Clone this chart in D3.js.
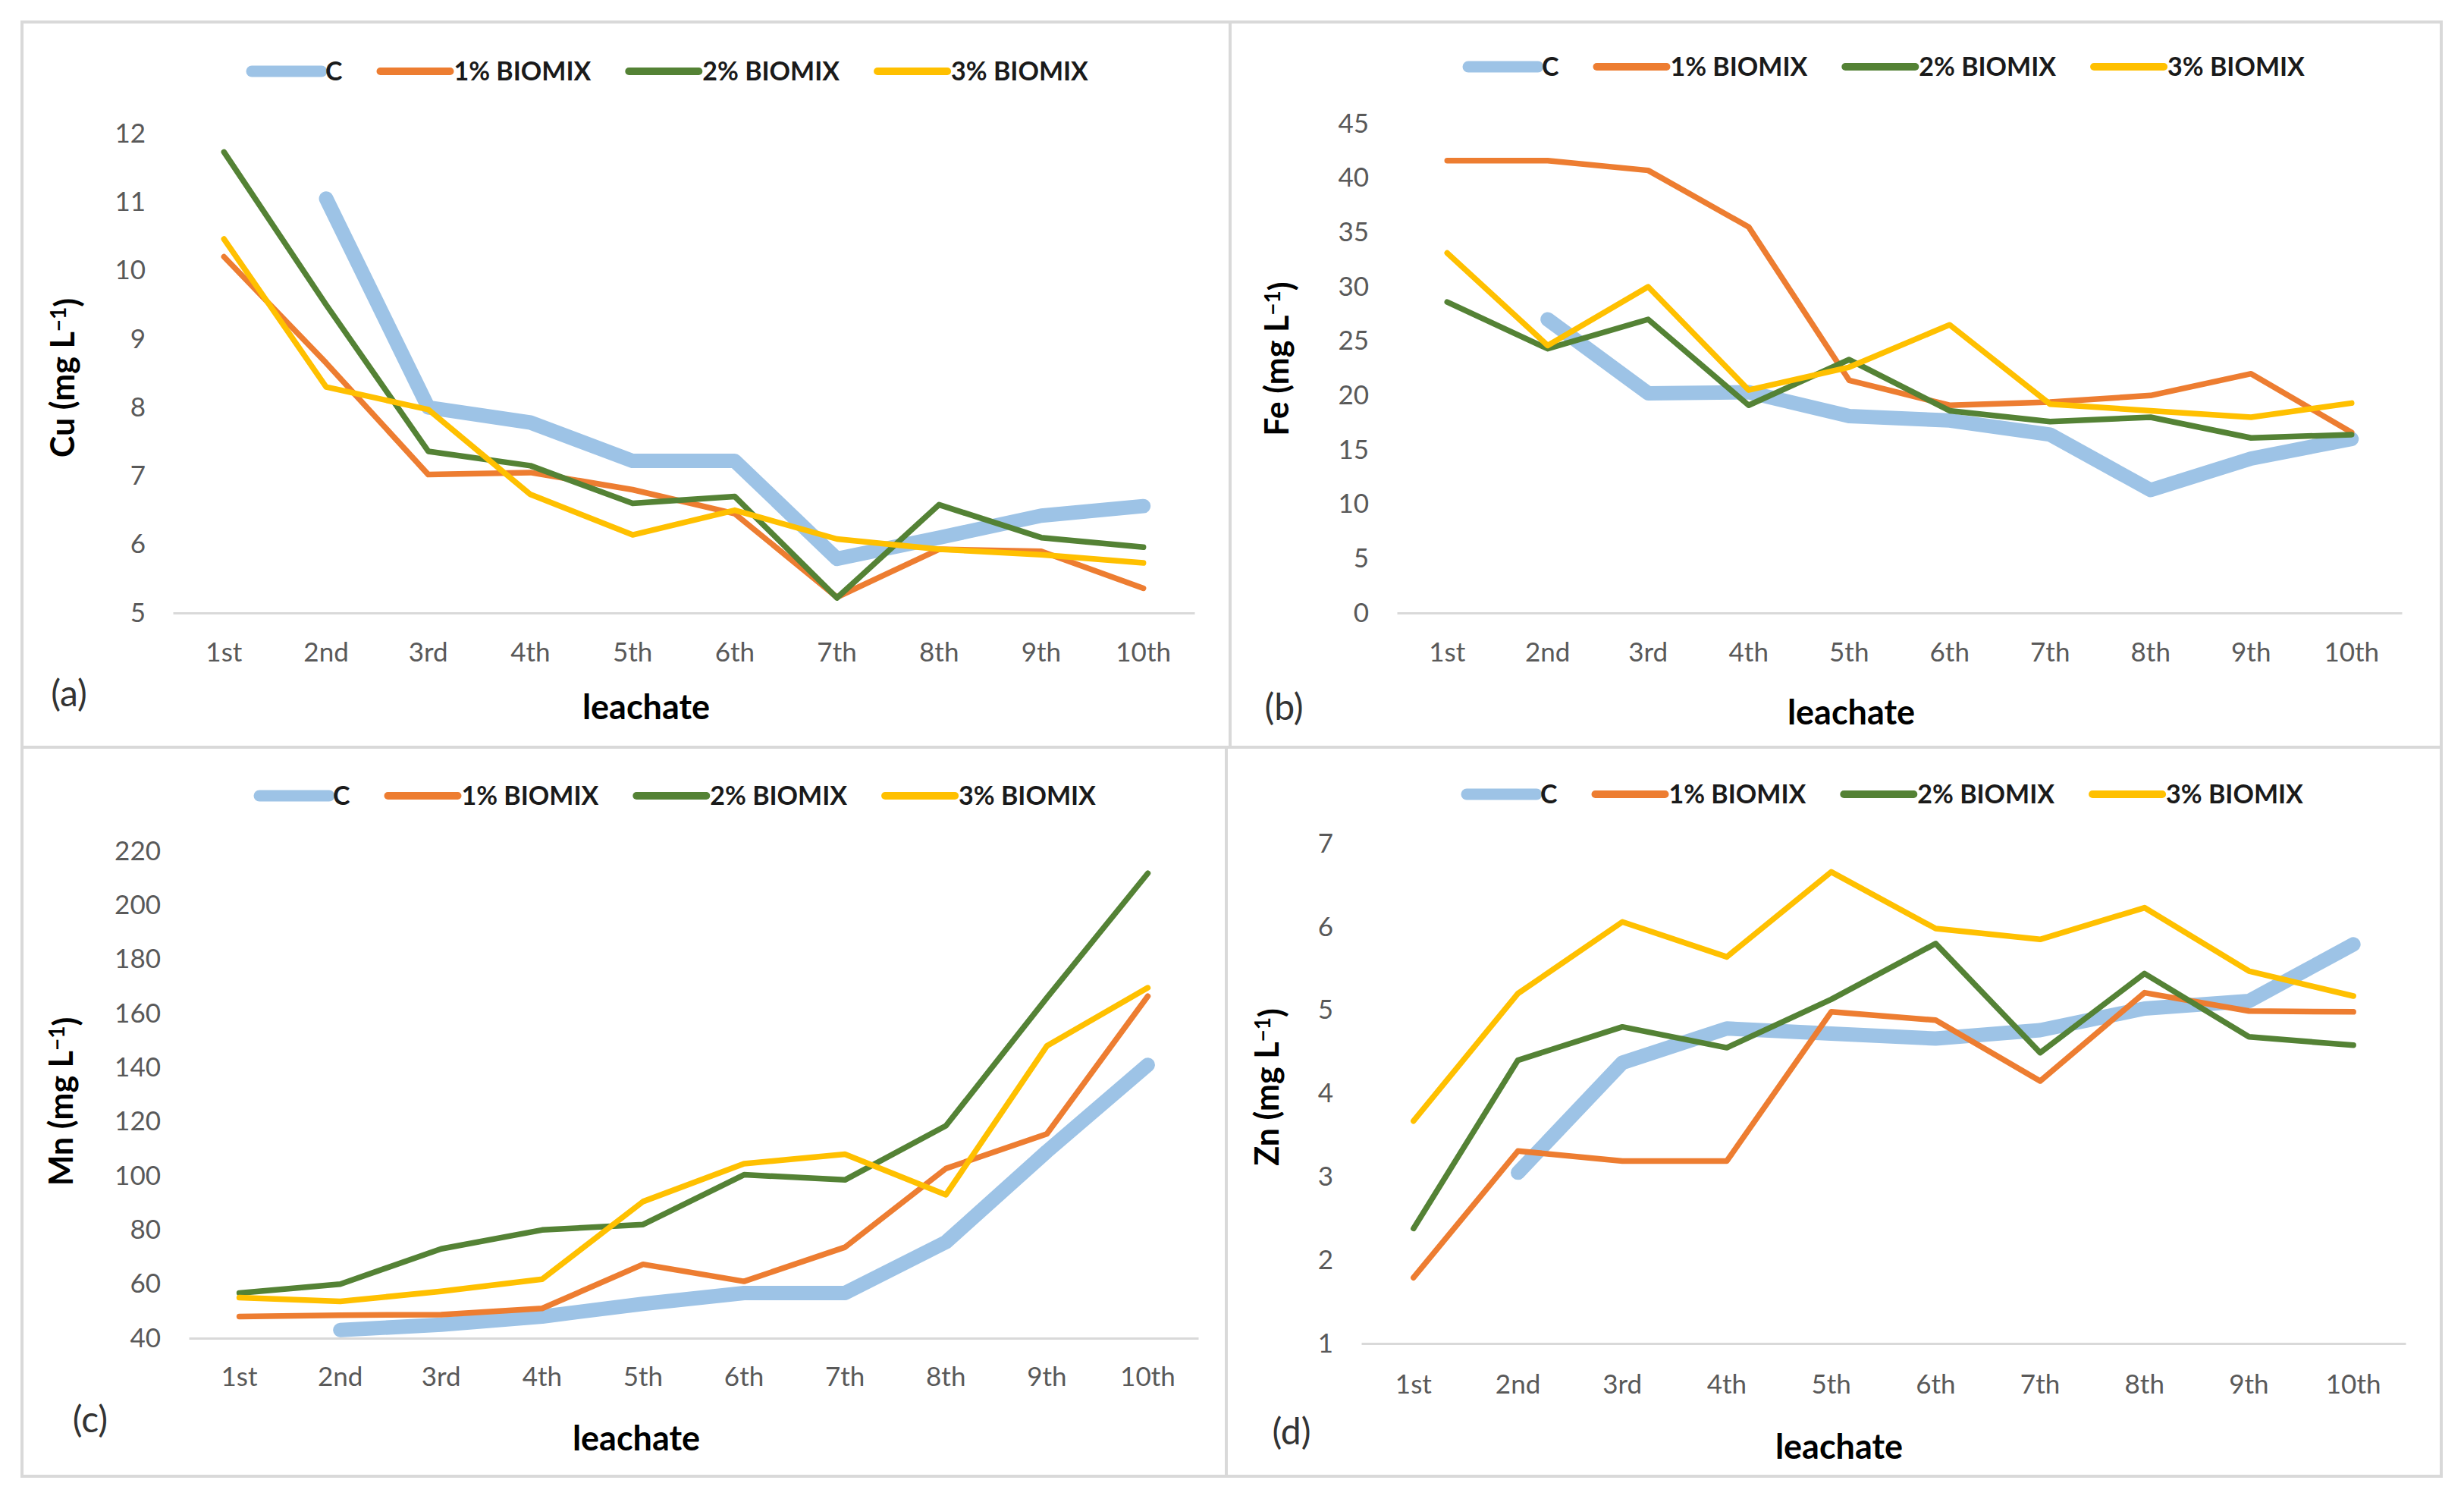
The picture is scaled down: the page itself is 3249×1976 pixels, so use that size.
<!DOCTYPE html>
<html>
<head>
<meta charset="utf-8">
<script src="https://cdn.jsdelivr.net/npm/d3@7"></script>
<style>
  html, body { margin: 0; padding: 0; background: #fff; }
  svg { display: block; font-family: Lato, "Open Sans", sans-serif; }
</style>
</head>
<body>
<div id="chart"></div>
<script>
// categories and series
const leachates = ["1st", "2nd", "3rd", "4th", "5th", "6th", "7th", "8th", "9th", "10th"];
const seriesNames = ["C", "1% BIOMIX", "2% BIOMIX", "3% BIOMIX"];

// Cu (mg L-1)
const cuC  = [null, 11.05, 8.0, 7.78, 7.22, 7.22, 5.79, 6.1, 6.42, 6.56];
const cu1  = [10.2, 8.65, 7.02, 7.05, 6.8, 6.45, 5.23, 5.93, 5.9, 5.36];
const cu2  = [11.73, 9.5, 7.36, 7.15, 6.6, 6.7, 5.22, 6.58, 6.1, 5.96];
const cu3  = [10.46, 8.3, 7.97, 6.73, 6.14, 6.5, 6.08, 5.93, 5.85, 5.73];
const cuTicks = [5, 6, 7, 8, 9, 10, 11, 12];

// Fe (mg L-1)
const feC  = [null, 27.0, 20.2, 20.3, 18.1, 17.7, 16.4, 11.3, 14.2, 16.0];
const fe1  = [41.6, 41.6, 40.7, 35.5, 21.4, 19.1, 19.4, 20.0, 22.0, 16.6];
const fe2  = [28.6, 24.3, 27.0, 19.1, 23.3, 18.6, 17.6, 18.0, 16.1, 16.4];
const fe3  = [33.1, 24.6, 30.0, 20.5, 22.6, 26.5, 19.2, 18.6, 18.0, 19.3];
const feTicks = [0, 5, 10, 15, 20, 25, 30, 35, 40, 45];

// Mn (mg L-1)
const mnC  = [null, 43, 45, 48, 52.7, 56.7, 56.7, 75.5, 109, 141];
const mn1  = [48, 48.5, 48.7, 51, 67.3, 61, 73.6, 102.7, 115.5, 166.4];
const mn2  = [56.7, 60, 73, 80, 82, 100.4, 98.5, 118.5, 165.8, 211.8];
const mn3  = [55, 53.6, 57.3, 61.8, 90.5, 104.5, 108, 93, 148, 169.5];
const mnTicks = [40, 60, 80, 100, 120, 140, 160, 180, 200, 220];

// Zn (mg L-1)
const znC  = [null, 3.05, 4.37, 4.78, 4.72, 4.66, 4.76, 5.02, 5.11, 5.79];
const zn1  = [1.79, 3.31, 3.19, 3.19, 4.98, 4.88, 4.15, 5.21, 4.99, 4.98];
const zn2  = [2.38, 4.4, 4.8, 4.55, 5.13, 5.8, 4.49, 5.44, 4.68, 4.58];
const zn3  = [3.67, 5.2, 6.06, 5.64, 6.66, 5.98, 5.85, 6.23, 5.47, 5.17];
const znTicks = [1, 2, 3, 4, 5, 6, 7];

const colors = ["#9DC3E6", "#ED7D31", "#548235", "#FFC000"];
const widths = [19, 7.5, 7.5, 7.5];

const width = 3249;
const height = 1976;

const svg = d3.select("#chart").append("svg")
    .attr("width", width)
    .attr("height", height)
    .attr("viewBox", [0, 0, width, height]);

svg.append("rect").attr("width", width).attr("height", height).attr("fill", "#fff");

// panel layout (pixel boxes only, no data)
const panels = [
  { el: "Cu", tag: "(a)", series: [cuC, cu1, cu2, cu3], ticks: cuTicks,
    box: [29, 29, 1622, 985], px: [228, 1575], py: [808, 176], tickX: 192, labY: 860,
    legY: 94, legX: 332, yt: [83, 498], xt: [852, 932], tg: [91, 914] },
  { el: "Fe", tag: "(b)", series: [feC, fe1, fe2, fe3], ticks: feTicks,
    box: [1622, 29, 3219, 985], px: [1842, 3167], py: [808, 163], tickX: 1805, labY: 860,
    legY: 88, legX: 1936, yt: [1684, 473], xt: [2441, 939], tg: [1693, 932] },
  { el: "Mn", tag: "(c)", series: [mnC, mn1, mn2, mn3], ticks: mnTicks,
    box: [29, 985, 1617, 1946], px: [249, 1580], py: [1764, 1122], tickX: 212, labY: 1815,
    legY: 1049, legX: 342, yt: [81, 1452], xt: [839, 1896], tg: [119, 1871] },
  { el: "Zn", tag: "(d)", series: [znC, zn1, zn2, zn3], ticks: znTicks,
    box: [1617, 985, 3219, 1946], px: [1795, 3172], py: [1771, 1112], tickX: 1758, labY: 1825,
    legY: 1047, legX: 1934, yt: [1671, 1433], xt: [2425, 1907], tg: [1703, 1887] }
];

panels.forEach(drawPanel);

function drawPanel(p) {
  const g = svg.append("g");

  // panel frame
  g.append("rect")
      .attr("x", p.box[0]).attr("y", p.box[1])
      .attr("width", p.box[2] - p.box[0]).attr("height", p.box[3] - p.box[1])
      .attr("fill", "none")
      .attr("stroke", "#D9D9D9")
      .attr("stroke-width", 4);

  const x = d3.scaleBand().domain(leachates).range(p.px);
  const y = d3.scaleLinear()
      .domain([p.ticks[0], p.ticks[p.ticks.length - 1]])
      .range(p.py);

  // x axis
  const xa = g.append("g")
      .attr("transform", `translate(0,${p.py[0]})`)
      .call(d3.axisBottom(x).tickSize(0).tickSizeOuter(0));
  xa.select(".domain").attr("stroke", "#D9D9D9").attr("stroke-width", 3);
  xa.selectAll("text")
      .attr("y", p.labY - p.py[0])
      .attr("dy", "0.35em")
      .attr("fill", "#595959")
      .style("font-size", "35px")
      .style("font-family", "Lato, sans-serif");

  // y axis
  const ya = g.append("g")
      .attr("transform", `translate(${p.tickX},0)`)
      .call(d3.axisLeft(y).tickValues(p.ticks).tickFormat(d3.format("d")).tickSize(0).tickPadding(0));
  ya.select(".domain").remove();
  ya.selectAll("text")
      .attr("fill", "#595959")
      .style("font-size", "35px")
      .style("font-family", "Lato, sans-serif");

  // lines
  const line = d3.line()
      .defined(d => d != null)
      .x((d, i) => x(leachates[i]) + x.bandwidth() / 2)
      .y(d => y(d));

  p.series.forEach((vals, i) => {
    g.append("path")
        .datum(vals)
        .attr("fill", "none")
        .attr("stroke", colors[i])
        .attr("stroke-width", widths[i])
        .attr("stroke-linejoin", "round")
        .attr("stroke-linecap", "round")
        .attr("d", line);
  });

  // legend
  let lx = p.legX;
  seriesNames.forEach((name, i) => {
    g.append("line")
        .attr("x1", lx).attr("x2", lx + 92)
        .attr("y1", p.legY).attr("y2", p.legY)
        .attr("stroke", colors[i])
        .attr("stroke-width", i === 0 ? 15 : 10)
        .attr("stroke-linecap", "round");
    const t = g.append("text")
        .attr("x", lx + 97)
        .attr("y", p.legY)
        .attr("dy", "0.35em")
        .attr("fill", "#1a1a1a")
        .style("font-size", "34px")
        .style("font-weight", "bold")
        .text(name);
    lx += 97 + t.node().getComputedTextLength() + 50;
  });

  // y title
  const yt = g.append("text")
      .attr("transform", `translate(${p.yt[0]},${p.yt[1]}) rotate(-90)`)
      .attr("text-anchor", "middle")
      .attr("dy", "0.35em")
      .attr("fill", "#000")
      .style("font-size", "43px")
      .style("font-weight", "bold");
  yt.append("tspan").text(`${p.el} (mg L`);
  yt.append("tspan").attr("dy", "-0.4em").style("font-size", "28px").text("−1");
  yt.append("tspan").attr("dy", "0.4em").text(")");

  // x title
  g.append("text")
      .attr("x", p.xt[0]).attr("y", p.xt[1])
      .attr("dy", "0.35em")
      .attr("text-anchor", "middle")
      .attr("fill", "#000")
      .style("font-size", "45px")
      .style("font-weight", "bold")
      .text("leachate");

  // panel tag
  g.append("text")
      .attr("x", p.tg[0]).attr("y", p.tg[1])
      .attr("dy", "0.35em")
      .attr("text-anchor", "middle")
      .attr("fill", "#333")
      .style("font-size", "48px")
      .text(p.tag);
}
</script>
</body>
</html>
